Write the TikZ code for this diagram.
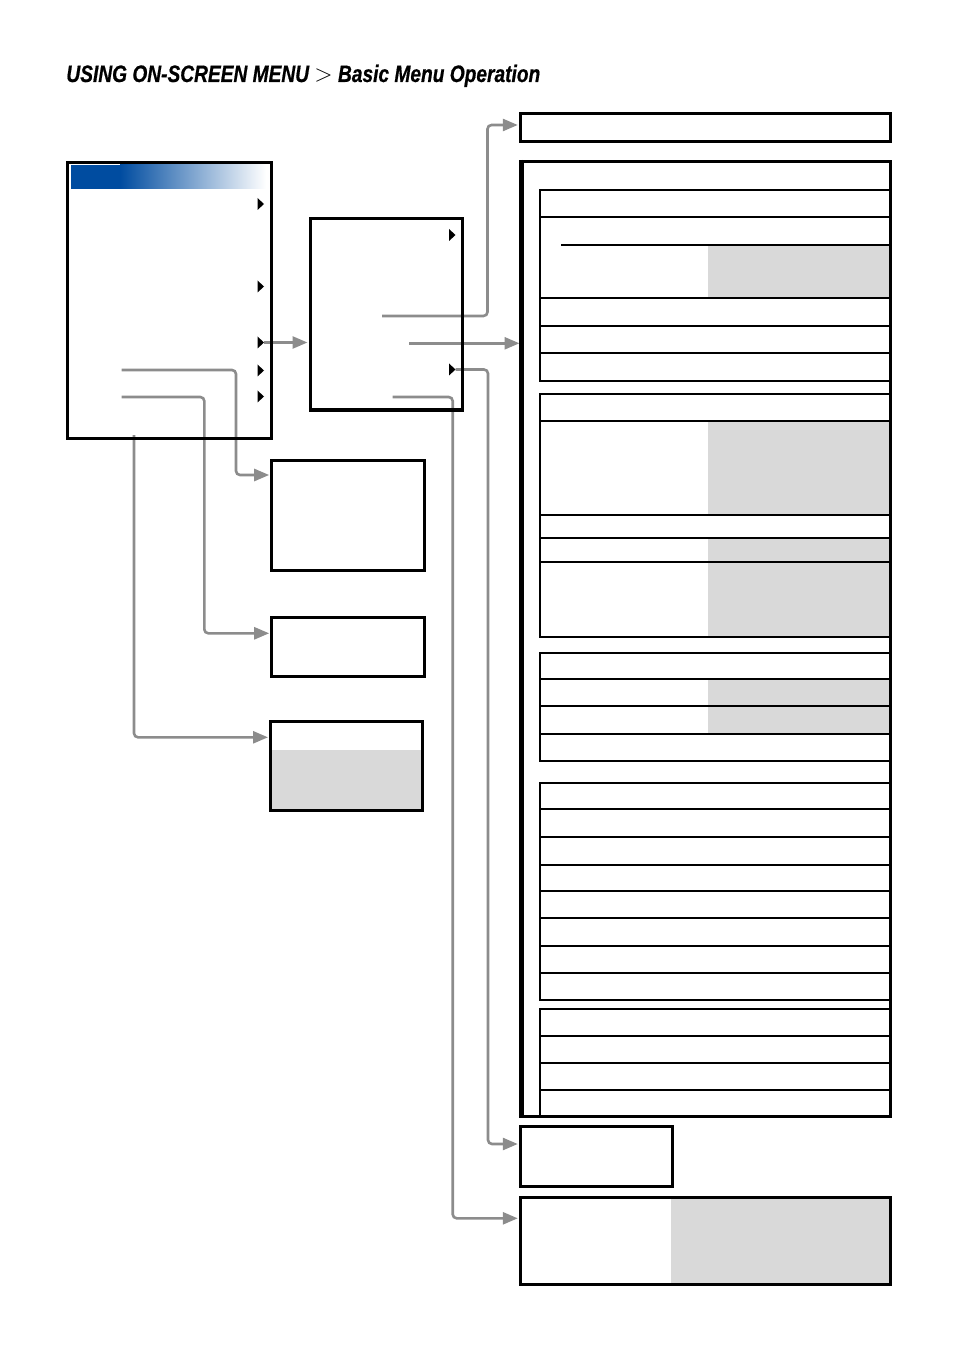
\documentclass[tikz,border=0pt]{standalone}
\usepackage{fontspec}
\newfontfamily\titlefont{Liberation Sans}[FakeStretch=0.805, FakeBold=0.6]
\usetikzlibrary{arrows.meta,fit,backgrounds}

\definecolor{menublue}{RGB}{0,76,160}
\definecolor{linkgray}{RGB}{140,140,140}
\definecolor{cellgray}{RGB}{217,217,217}

\tikzset{
  menubox/.style={draw, line width=1.5pt, inner sep=0pt},
  rowline/.style={line width=1pt},
  link/.style={linkgray, line width=1.3pt, rounded corners=2pt,
    -{Triangle[length=7.5pt, width=6pt]}, shorten >=0.5pt},
}

\begin{document}
\begin{tikzpicture}[x=0.5pt, y=-0.5pt]
  \useasboundingbox (0,0) rectangle (954,1352);

  % heading
  \node[anchor=base west, inner sep=0pt,
        font=\titlefont\bfseries\itshape\fontsize{11.9}{14}\selectfont]
    (title) at (66,82) {USING ON-SCREEN MENU {\normalfont$>$} Basic Menu Operation};

  % main menu
  \fill[menublue] (71,165) rectangle (120,189);
  \shade[left color=menublue, middle color=menublue!80!white, right color=white]
    (120,165) rectangle (266,189);
  \node[menubox, fit={(67,162.5) (271,438.5)}] (main) {};
  \foreach \y [count=\i] in {204,286.5,342.5,370.5,396.5} {
    \fill (257.5,\y-6) -- (264,\y) -- (257.5,\y+6) -- cycle;
    \coordinate (mp\i) at (264,\y);
  }

  % sub menu
  \node[menubox, fit={(310,218.5) (462,410)}] (sub) {};
  \foreach \y [count=\i] in {235,369.5} {
    \fill (449,\y-6) -- (455.5,\y) -- (449,\y+6) -- cycle;
    \coordinate (sp\i) at (455.5,\y);
  }

  % boxes below the main menu
  \node[menubox, fit={(271.7,460.3) (424,570)}] (boxA) {};
  \node[menubox, fit={(271.7,617) (424,676.7)}] (boxB) {};
  \fill[cellgray] (270.5,749.5) rectangle (422.5,810);
  \node[menubox, fit={(270.5,721.7) (422.5,810)}] (boxC) {};

  % right column
  \node[menubox, fit={(520.3,113.3) (890,141.7)}] (topbar) {};

  \fill[cellgray] (708,245) rectangle (890,298);
  \draw[rowline] (539.5,190) rectangle (890,381);
  \foreach \y in {217,298,326,353} \draw[rowline] (539.5,\y) -- (890,\y);
  \draw[rowline] (561,245) -- (890,245);

  \fill[cellgray] (708,421) rectangle (890,515);
  \fill[cellgray] (708,538) rectangle (890,637);
  \draw[rowline] (539.5,394) rectangle (890,637);
  \foreach \y in {421,515,538,562} \draw[rowline] (539.5,\y) -- (890,\y);

  \fill[cellgray] (708,679) rectangle (890,734);
  \draw[rowline] (539.5,653) rectangle (890,761);
  \foreach \y in {679,706,734} \draw[rowline] (539.5,\y) -- (890,\y);

  \draw[rowline] (539.5,783) rectangle (890,1000);
  \foreach \y in {809,837,865,891,918,946,973} \draw[rowline] (539.5,\y) -- (890,\y);

  \draw[rowline] (539.5,1009) rectangle (890,1116);
  \foreach \y in {1036,1063,1090} \draw[rowline] (539.5,\y) -- (890,\y);

  \node[menubox, fit={(522,161.5) (890,1116)}] (panel) {};
  \draw[line width=2pt] (panel.north west) -- (panel.south west);

  \node[menubox, fit={(520.3,1126.5) (672.5,1186)}] (boxD) {};
  \fill[cellgray] (671,1197.7) rectangle (890,1284);
  \node[menubox, fit={(520.3,1197.7) (890,1284)}] (boxE) {};

  % connectors
  \coordinate (m4) at (121.5,370);
  \coordinate (m5) at (121.5,397);
  \coordinate (m6) at (134,435);
  \coordinate (s1) at (382,316);
  \coordinate (s2) at (409,343.3);
  \coordinate (s4) at (392.7,397);
  \coordinate (tA) at (236,475);
  \coordinate (tB) at (204.3,633.3);
  \coordinate (tC) at (134,737.3);
  \coordinate (tT) at (487.5,125);
  \coordinate (tD) at (488,1144);
  \coordinate (tE) at (452.7,1218.3);

  \begin{scope}[on background layer]
    \draw[link] (mp3) -- (sub.west |- mp3);
    \draw[link] (m4) -| (tA) -- (boxA.west |- tA);
    \draw[link] (m5) -| (tB) -- (boxB.west |- tB);
    \draw[link] (m6) |- (boxC.west |- tC);
    \draw[link] (s1) -| (tT) -- (topbar.west |- tT);
    \draw[link] (s2) -- (panel.west |- s2);
    \draw[link] (sp2) -| (tD) -- (boxD.west |- tD);
    \draw[link] (s4) -| (tE) -- (boxE.west |- tE);
  \end{scope}
\end{tikzpicture}
\end{document}
